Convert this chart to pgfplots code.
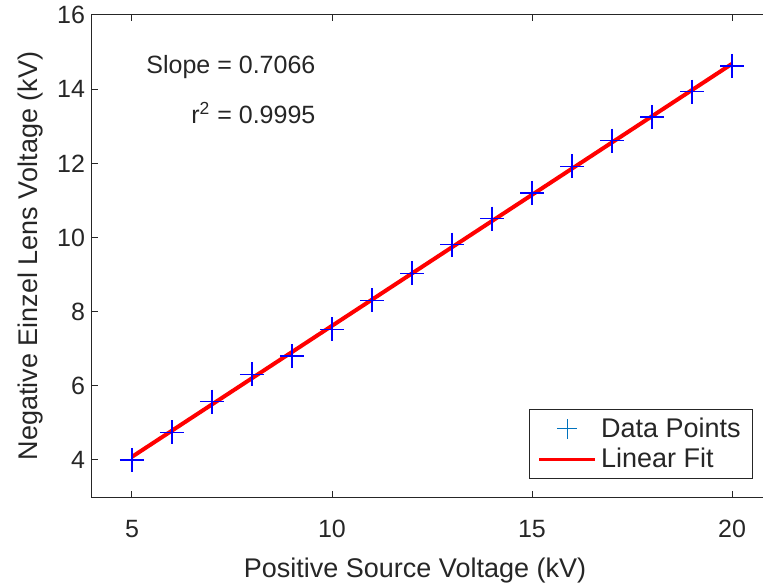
\documentclass[border=0pt]{standalone}
\usepackage{pgfplots}
\pgfplotsset{compat=1.18}
\usepackage{fontspec}
\setmainfont{Liberation Sans}
\usetikzlibrary{calc}
\definecolor{axgray}{RGB}{38,38,38}
\definecolor{legblue}{RGB}{0,114,189}
\begin{document}
\begin{tikzpicture}
\begin{axis}[
  name=ax,
  scale only axis,
  width=340bp, height=241bp,
  xmin=4, xmax=21, ymin=3, ymax=16,
  xtick={5,10,15,20}, ytick={4,6,8,10,12,14,16},
  tick align=inside,
  major tick length=3bp,
  axis line style={axgray, line width=0.5bp},
  every tick/.style={axgray, line width=0.5bp},
  tick label style={font=\fontsize{12.5bp}{14bp}\selectfont, text=axgray},
  xticklabel style={yshift=-8bp},
  /pgf/number format/assume math mode=true,
  xlabel={Positive Source Voltage (kV)},
  ylabel={Negative Einzel Lens Voltage (kV)},
  label style={font=\fontsize{13.5bp}{15bp}\selectfont, text=axgray},
  xlabel style={yshift=-3.5bp, xshift=-8.5bp},
  legend style={at={(axis cs:20.53,3.48)}, anchor=south east, draw=axgray, line width=0.5bp,
    font=\fontsize{13.5bp}{15bp}\selectfont, text=axgray, inner xsep=4bp, inner ysep=2bp, row sep=0bp,
    nodes={inner xsep=2bp}},
  legend cell align=left,
  clip=false,
]
\addplot[only marks, mark=+, mark size=6bp, blue, line width=0.75bp,
  legend image code/.code={\draw[legblue, line width=0.5bp] (14bp,-5bp) -- (14bp,5bp) (9bp,0bp) -- (19bp,0bp);}]
  coordinates {
  (5,4.00) (6,4.74) (7,5.57) (8,6.31) (9,6.80) (10,7.52) (11,8.30) (12,9.03)
  (13,9.81) (14,10.51) (15,11.20) (16,11.92) (17,12.61) (18,13.25) (19,13.93) (20,14.63)
  };
\addlegendentry{Data Points}
\addplot[red, line width=2bp,
  legend image code/.code={\draw[red, line width=1.75bp] (0bp,0bp) -- (28bp,0bp);}]
  coordinates {(5,4.084) (20,14.683)};
\addlegendentry{Linear Fit}
\node[anchor=east, font=\fontsize{12.5bp}{14bp}\selectfont, text=axgray] at (axis cs:9.76,14.60) {Slope = 0.7066};
\node[anchor=east, font=\fontsize{12.5bp}{14bp}\selectfont, text=axgray] at (axis cs:9.76,13.36) {r\textsuperscript{2} = 0.9995};
\end{axis}
\pgfresetboundingbox
\path[use as bounding box] ($(ax.south west)+(-46bp,-45.5bp)$) rectangle ($(ax.north west)+(335.5bp,7.5bp)$);
\end{tikzpicture}
\end{document}
